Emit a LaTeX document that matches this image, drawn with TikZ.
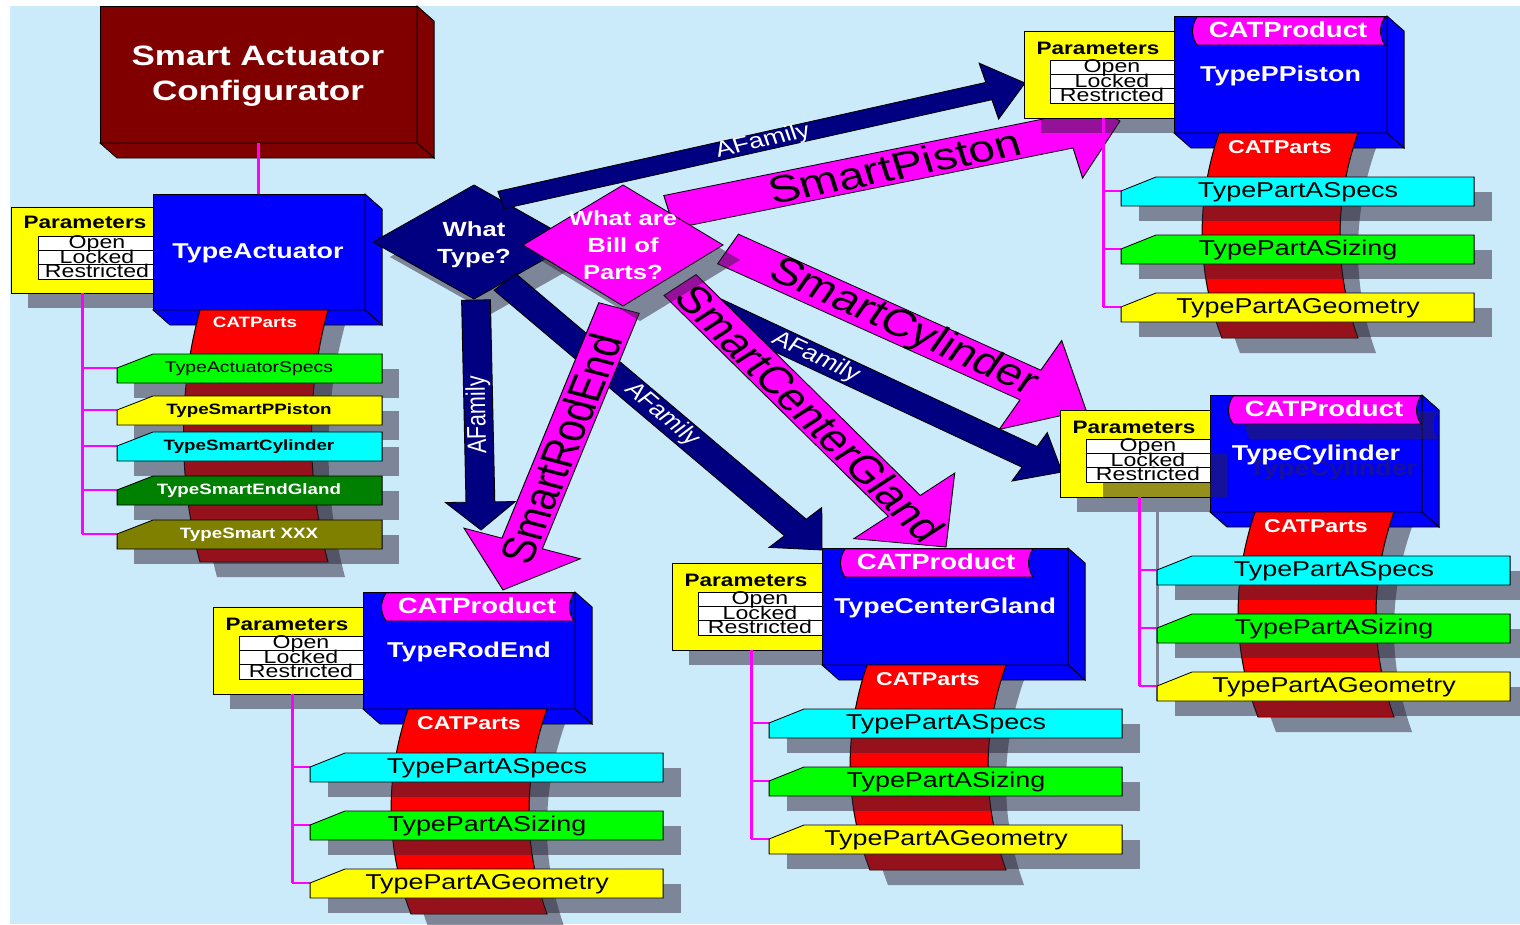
\documentclass[tikz,border=0pt]{standalone}
\usepackage{fontspec}
\setmainfont{Liberation Sans}
\usetikzlibrary{calc}
\definecolor{bgblue}{RGB}{204,235,250}
\definecolor{navyc}{RGB}{0,0,128}
\definecolor{magc}{RGB}{255,0,255}
\definecolor{boxblue}{RGB}{0,0,255}
\definecolor{darkredc}{RGB}{128,0,0}
\definecolor{ribred}{RGB}{255,0,0}
\definecolor{shadowc}{RGB}{45,35,55}
\definecolor{tabyellow}{RGB}{255,255,0}
\definecolor{tabcyan}{RGB}{0,255,255}
\definecolor{tabgreen}{RGB}{0,255,0}
\definecolor{tabdkgreen}{RGB}{0,128,0}
\definecolor{tabolive}{RGB}{128,128,0}
\tikzset{
 outl/.style={draw=black, line width=0.8pt},
 shadowfill/.style={fill=shadowc, fill opacity=0.5},
 treeline/.style={draw=magc, line width=2.4pt},
 navyarrow/.style={outl, fill=navyc},
 magarrow/.style={outl, fill=magc},
 ttl/.style={text=white, align=center, font=\bfseries\fontsize{28}{35}\selectfont},
 pname/.style={text=white, inner sep=0pt, font=\bfseries\fontsize{21.5}{24}\selectfont},
 bantxt/.style={text=white, inner sep=0pt, font=\bfseries\fontsize{22}{24}\selectfont},
 cptxt/.style={text=white, inner sep=0pt, font=\bfseries\fontsize{#1}{20}\selectfont},
 partitle/.style={inner sep=0pt, font=\bfseries\fontsize{18}{20}\selectfont},
 rowtxt/.style={inner sep=0pt, font=\fontsize{18.5}{20}\selectfont},
 partxt/.style={inner sep=0pt, font=\fontsize{21.5}{24}\selectfont},
 actreg/.style={inner sep=0pt, font=\fontsize{15.5}{17}\selectfont},
 actbold/.style={inner sep=0pt, font=\bfseries\fontsize{15}{17}\selectfont},
 qtxt/.style={text=white, align=center, inner sep=0pt, font=\bfseries\fontsize{20.5}{27}\selectfont},
 famtxt/.style={text=white, inner sep=0pt, font=\fontsize{21.5}{24}\selectfont},
 bigtxt/.style={inner sep=0pt, font=\fontsize{38}{40}\selectfont}
}
\newcommand{\blockarrow}[6]{%
 \coordinate (#3base) at ($(#3)!#6!(#2)$);
 \draw[#1] ($(#2)!#4!90:(#3)$) -- ($(#3base)!#4!90:(#3)$) -- ($(#3base)!#5!90:(#3)$) -- (#3)
  -- ($(#3base)!#5!-90:(#3)$) -- ($(#3base)!#4!-90:(#3)$) -- ($(#2)!#4!-90:(#3)$) -- cycle;
}
\newcommand{\prodgroup}[5]{%
 \begin{scope}[shift={#2}]
  \fill[shadowfill] (-133,30) rectangle (17,117);
  \fill[shadowfill] (63,132) .. controls (40,200) and (40,270) .. (66,337) -- (202,337) .. controls (178,270) and (178,200) .. (202,132) -- cycle;
  \draw[outl, fill=tabyellow] (-150,15) rectangle (0,102);
  \node[partitle] (#1par) at (-76,32) {Parameters};
  \draw[outl, fill=boxblue] (0,0) rectangle (#3,117);
  \draw[outl, fill=boxblue] (#3,0) -- (#3+17,15) -- (#3+17,132) -- (#3,117) -- cycle;
  \draw[outl, fill=boxblue] (0,117) -- (17,132) -- (#3+17,132) -- (#3,117) -- cycle;
  #5
  \draw[line width=0.6pt, fill=white] (-124,44) rectangle (0,87);
  \foreach \yr/\lab [count=\i] in {58.3/Open, 72.7/Locked, 87/Restricted}
   \node[rowtxt, anchor=base] (#1row\i) at (-62,\yr-1.5) {\lab};
  \draw[line width=0.6pt] (-124,58.3) -- (0,58.3) (-124,72.7) -- (0,72.7);
  \draw[outl, fill=magc] (23,1) -- (211,1) .. controls (205,10) and (205,20) .. (211,29) -- (23,29) .. controls (17,20) and (17,10) .. (23,1) -- cycle;
  \node[bantxt] (#1ban) at (114,14) {CATProduct};
  \node[pname] (#1) at (#3/2,60) {#4};
  \draw[outl, fill=ribred] (45,117) .. controls (22,185) and (22,255) .. (48,322) -- (184,322) .. controls (160,255) and (160,185) .. (184,117) -- cycle;
  \node[cptxt=18.5] (#1cat) at (106,131) {CATParts};
  \draw[treeline] (-71,102) -- (-71,291);
  \foreach \yt/\col/\lab [count=\i] in {161/tabcyan/TypePartASpecs, 219/tabgreen/TypePartASizing, 277/tabyellow/TypePartAGeometry} {
   \fill[shadowfill] (-35,\yt+15) rectangle (318,\yt+44);
   \draw[treeline] (-71,\yt+14) -- (-53,\yt+14);
   \draw[outl, fill=\col] (-53,\yt+14) -- (-18,\yt) -- (300,\yt) -- (300,\yt+29) -- (-53,\yt+29) -- cycle;
   \node[partxt] (#1tab\i) at (124,\yt+15) {\lab};
  }
 \end{scope}
}
\begin{document}
\begin{tikzpicture}
\useasboundingbox (0pt,0pt) rectangle (1520pt,-924pt);
\begin{scope}[x=0.8pt, y=-1pt, transform canvas={xscale=1.25}]
\fill[bgblue] (10,6) rectangle (1520,924);

\draw[outl, fill=darkredc] (100,6) rectangle (417,143);
\draw[outl, fill=darkredc] (417,6) -- (434,21) -- (434,158) -- (417,143) -- cycle;
\draw[outl, fill=darkredc] (100,143) -- (117,158) -- (434,158) -- (417,143) -- cycle;
\node[ttl] (config) at (258,76) {Smart Actuator\\Configurator};
\coordinate (cfgfoot) at (258,143);
\coordinate (acthead) at (258,194);
\draw[treeline] (cfgfoot) -- (acthead);

\fill[shadowfill] (28,222) rectangle (170,308);
\fill[shadowfill] (217,325) .. controls (195,405) and (195,495) .. (217,577) -- (345,577) .. controls (323,495) and (323,405) .. (345,325) -- cycle;
\draw[outl, fill=tabyellow] (11,207) rectangle (153,293);
\node[partitle] (actpar) at (85,222) {Parameters};
\draw[line width=0.6pt, fill=white] (38,236) rectangle (153,279);
\foreach \yr/\lab [count=\i] in {250.3/Open, 264.7/Locked, 279/Restricted}
 \node[rowtxt, anchor=base] (actrow\i) at (97,\yr-1.5) {\lab};
\draw[line width=0.6pt] (38,250.3) -- (153,250.3) (38,264.7) -- (153,264.7);
\draw[outl, fill=boxblue] (153,194) rectangle (365,310);
\draw[outl, fill=boxblue] (365,194) -- (382,209) -- (382,325) -- (365,310) -- cycle;
\draw[outl, fill=boxblue] (153,310) -- (170,325) -- (382,325) -- (365,310) -- cycle;
\node[pname] (actuator) at (258,253) {TypeActuator};
\draw[outl, fill=ribred] (200,310) .. controls (178,390) and (178,480) .. (200,562) -- (328,562) .. controls (306,480) and (306,390) .. (328,310) -- cycle;
\node[cptxt=15] (actcat) at (255,322) {CATParts};
\draw[treeline] (82,293) -- (82,534);
\foreach \yt/\col/\tc/\sty/\lab [count=\i] in {354/tabgreen/black/actreg/TypeActuatorSpecs, 396/tabyellow/black/actbold/TypeSmartPPiston, 432/tabcyan/black/actbold/TypeSmartCylinder, 476/tabdkgreen/white/actbold/TypeSmartEndGland, 520/tabolive/white/actbold/TypeSmart XXX} {
 \fill[shadowfill] (134,\yt+15) rectangle (399,\yt+44);
 \draw[treeline] (82,\yt+14) -- (117,\yt+14);
 \draw[outl, fill=\col] (117,\yt+14) -- (153,\yt) -- (382,\yt) -- (382,\yt+29) -- (117,\yt+29) -- cycle;
 \node[\sty, text=\tc] (acttab\i) at (249,\yt+15) {\lab};
}

\coordinate (famPtail) at (501,200);
\coordinate (famPtip) at (1025,83);
\coordinate (famRtail) at (476,300);
\coordinate (famRtip) at (481,530);
\coordinate (famGtail) at (505,282);
\coordinate (famGtip) at (822,550);
\coordinate (famCtail) at (700,303);
\coordinate (famCtip) at (1062,472);
\coordinate (smPtail) at (669,212);
\coordinate (smPtip) at (1120,121);
\coordinate (smCtail) at (728,249);
\coordinate (smCtip) at (1086,410);
\coordinate (smGtail) at (680,285);
\coordinate (smGtip) at (946,547);
\coordinate (smRtail) at (619,308);
\coordinate (smRtip) at (503,590);

\fill[shadowfill] (390,257) -- (491,200) -- (592,257) -- (491,314) -- cycle;
\draw[outl, fill=navyc] (373,242) -- (474,185) -- (575,242) -- (474,299) -- cycle;
\blockarrow{navyarrow}{famPtail}{famPtip}{9pt}{29pt}{30pt}
\blockarrow{navyarrow}{famRtail}{famRtip}{11.5pt}{28pt}{28pt}
\blockarrow{navyarrow}{famGtail}{famGtip}{12pt}{29pt}{31pt}
\blockarrow{navyarrow}{famCtail}{famCtip}{12pt}{28pt}{30pt}
\path (famPtail) -- (famPtip) node[famtxt, sloped, pos=0.5] (famPlab) {AFamily};
\path (famRtip) -- (famRtail) node[famtxt, sloped, allow upside down, pos=0.5] (famRlab) {AFamily};
\path (famGtail) -- (famGtip) node[famtxt, sloped, pos=0.495] (famGlab) {AFamily};
\path (famCtail) -- (famCtip) node[famtxt, sloped, pos=0.32] (famClab) {AFamily};

\blockarrow{magarrow}{smPtail}{smPtip}{17pt}{48pt}{43pt}
\blockarrow{magarrow}{smCtail}{smCtip}{17pt}{51pt}{51pt}
\blockarrow{magarrow}{smGtail}{smGtip}{16.5pt}{52pt}{53pt}
\blockarrow{magarrow}{smRtail}{smRtip}{17pt}{49pt}{49pt}
\path (smPtail) -- (smPtip) node[bigtxt, sloped, pos=0.5] (smPlab) {SmartPiston};
\path (smCtail) -- (smCtip) node[bigtxt, sloped, pos=0.49] (smClab) {SmartCylinder};
\path (smGtail) -- (smGtip) node[bigtxt, sloped, pos=0.49] (smGlab) {SmartCenterGland};
\path (smRtail) -- (smRtip) node[bigtxt, sloped, pos=0.5] (smRlab) {SmartRodEnd};

\fill[shadowfill] (540,260) -- (640,200) -- (740,260) -- (640,321) -- cycle;
\draw[outl, fill=magc] (523,245) -- (623,185) -- (723,245) -- (623,306) -- cycle;
\node[qtxt] (qtype) at (474,245) {What\\Type?};
\node[qtxt] (qbom) at (623,245) {What are\\Bill of\\Parts?};

\prodgroup{piston}{(1174,16)}{213}{TypePPiston}{}
\prodgroup{cylinder}{(1210,395)}{212}{TypeCylinder}{%
  \fill[shadowfill] (-107,59) rectangle (17,102);
  \fill[shadowfill] (40,16) -- (228,16) .. controls (222,25) and (222,35) .. (228,44) -- (40,44) .. controls (34,35) and (34,25) .. (40,16) -- cycle;
  \node[pname, text=shadowc, text opacity=0.5] (cylghost) at (123,75) {TypeCylinder};
  \draw[shadowc, opacity=0.5, line width=2.4pt] (-53,117) -- (-53,306);}
\prodgroup{gland}{(822,548)}{246}{TypeCenterGland}{}
\prodgroup{rodend}{(363,592)}{212}{TypeRodEnd}{}
\end{scope}
\end{tikzpicture}
\end{document}
